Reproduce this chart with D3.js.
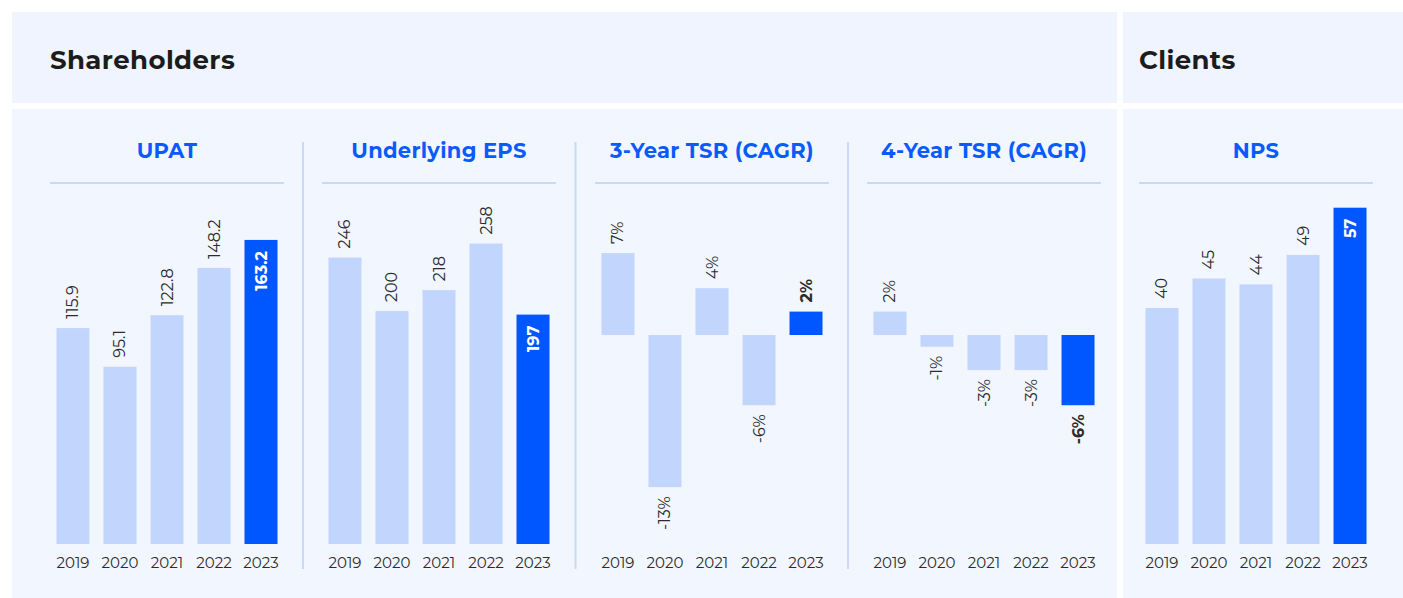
<!DOCTYPE html>
<html>
<head>
<meta charset="utf-8">
<script src="https://cdn.jsdelivr.net/npm/d3@7"></script>
<style>
  html, body { margin: 0; padding: 0; background: #fff; }
  svg { display: block; }
</style>
</head>
<body>
<div id="chart"></div>
<script>
// ── Data ───────────────────────────────────────
const YEARS  = ["2019", "2020", "2021", "2022", "2023"];
const UPAT   = [115.9, 95.1, 122.8, 148.2, 163.2];
const EPS    = [246, 200, 218, 258, 197];
const TSR3   = [7, -13, 4, -6, 2];
const TSR4   = [2, -1, -3, -3, -6];
const NPS    = [40, 45, 44, 49, 57];
const TITLES = ["UPAT", "Underlying EPS", "3-Year TSR (CAGR)", "4-Year TSR (CAGR)", "NPS"];
const GROUPS = ["Shareholders", "Clients"];

(function () {
  const W = 1403, H = 598;
  const FONT = "Montserrat, Inter, 'Noto Sans', sans-serif";
  const C = {
    panel: "#EFF4FE", body: "#F2F6FF", light: "#C2D5FC", dark: "#0057FF",
    title: "#0A5BFF", rule: "#C9DAF8", text: "#2B2B2B"
  };

  const svg = d3.select("#chart").append("svg").attr("width", W).attr("height", H);

  // ── Background panels ────────────────────────
  svg.append("rect").attr("x", 12).attr("y", 12).attr("width", 1105).attr("height", 91).attr("fill", C.panel);
  svg.append("rect").attr("x", 1123).attr("y", 12).attr("width", W - 1123).attr("height", 91).attr("fill", C.panel);
  svg.append("rect").attr("x", 12).attr("y", 109).attr("width", 1105).attr("height", H - 109).attr("fill", C.body);
  svg.append("rect").attr("x", 1123).attr("y", 109).attr("width", W - 1123).attr("height", H - 109).attr("fill", C.body);

  svg.selectAll(".group-title").data(GROUPS).join("text")
    .attr("class", "group-title")
    .attr("x", (d, i) => i === 0 ? 50 : 1139).attr("y", 69)
    .attr("font-family", FONT).attr("font-size", "26px").attr("font-weight", 700)
    .attr("letter-spacing", "0.4px")
    .attr("fill", "#1C1C1C").text(d => d);

  // separators between shareholder panels
  [303, 575.5, 848].forEach(x => {
    svg.append("line").attr("x1", x).attr("x2", x).attr("y1", 142).attr("y2", 569)
      .attr("stroke", C.rule).attr("stroke-width", 2);
  });

  const panels = [
    { x0: 50,   values: UPAT, domain: [0, 190],          fmt: d => d.toFixed(1) },
    { x0: 322,  values: EPS,  domain: [0, 304],          fmt: d => String(d) },
    { x0: 595,  values: TSR3, domain: [-17.86, 12.39],   fmt: d => d + "%" },
    { x0: 867,  values: TSR4, domain: [-17.86, 12.39],   fmt: d => d + "%" },
    { x0: 1139, values: NPS,  domain: [0, 60],           fmt: d => String(d) }
  ];

  const PW = 234, TOP = 190, BASE = 544;

  panels.forEach((p, pi) => {
    const g = svg.append("g");
    const x = d3.scaleBand().domain(YEARS).range([p.x0, p.x0 + PW]).paddingInner(0.298).paddingOuter(0.138);
    const y = d3.scaleLinear().domain(p.domain).range([BASE, TOP]);
    const data = YEARS.map((yr, i) => ({ yr, v: p.values[i], last: i === YEARS.length - 1 }));

    // title + rule
    g.append("text").attr("x", p.x0 + PW / 2).attr("y", 158)
      .attr("text-anchor", "middle").attr("font-family", FONT)
      .attr("font-size", "21px").attr("font-weight", 700).attr("fill", C.title)
      .attr("letter-spacing", "0.3px")
      .text(TITLES[pi]);
    g.append("line").attr("x1", p.x0).attr("x2", p.x0 + PW).attr("y1", 183).attr("y2", 183)
      .attr("stroke", C.rule).attr("stroke-width", 2);

    // bars
    g.selectAll(".bar").data(data).join("rect")
      .attr("class", "bar")
      .attr("x", d => x(d.yr)).attr("width", x.bandwidth())
      .attr("y", d => y(Math.max(0, d.v)))
      .attr("height", d => Math.abs(y(d.v) - y(0)))
      .attr("fill", d => d.last ? C.dark : C.light);

    // value labels (rotated)
    g.selectAll(".val").data(data).join("text")
      .attr("class", "val")
      .each(function (d) {
        const cx = x(d.yr) + x.bandwidth() / 2;
        const len = Math.abs(y(d.v) - y(0));
        const inside = d.last && len > 120;
        let py, anchor;
        if (inside) { py = y(d.v) + 11; anchor = "end"; }
        else if (d.v >= 0) { py = y(d.v) - 9; anchor = "start"; }
        else { py = y(d.v) + 9; anchor = "end"; }
        d3.select(this)
          .attr("transform", `translate(${cx},${py}) rotate(-90)`)
          .attr("text-anchor", anchor)
          .attr("dominant-baseline", "central")
          .attr("font-family", FONT).attr("font-size", "16px")
          .attr("font-weight", d.last ? 700 : 400)
          .attr("fill", inside ? "#fff" : C.text)
          .text(p.fmt(d.v));
      });

    // year axis
    const ax = g.append("g").attr("transform", `translate(0,${BASE})`)
      .call(d3.axisBottom(x).tickSize(0).tickPadding(13));
    ax.select(".domain").remove();
    ax.selectAll("text").attr("font-family", FONT).attr("font-size", "15px").attr("fill", C.text);
  });
})();
</script>
</body>
</html>
